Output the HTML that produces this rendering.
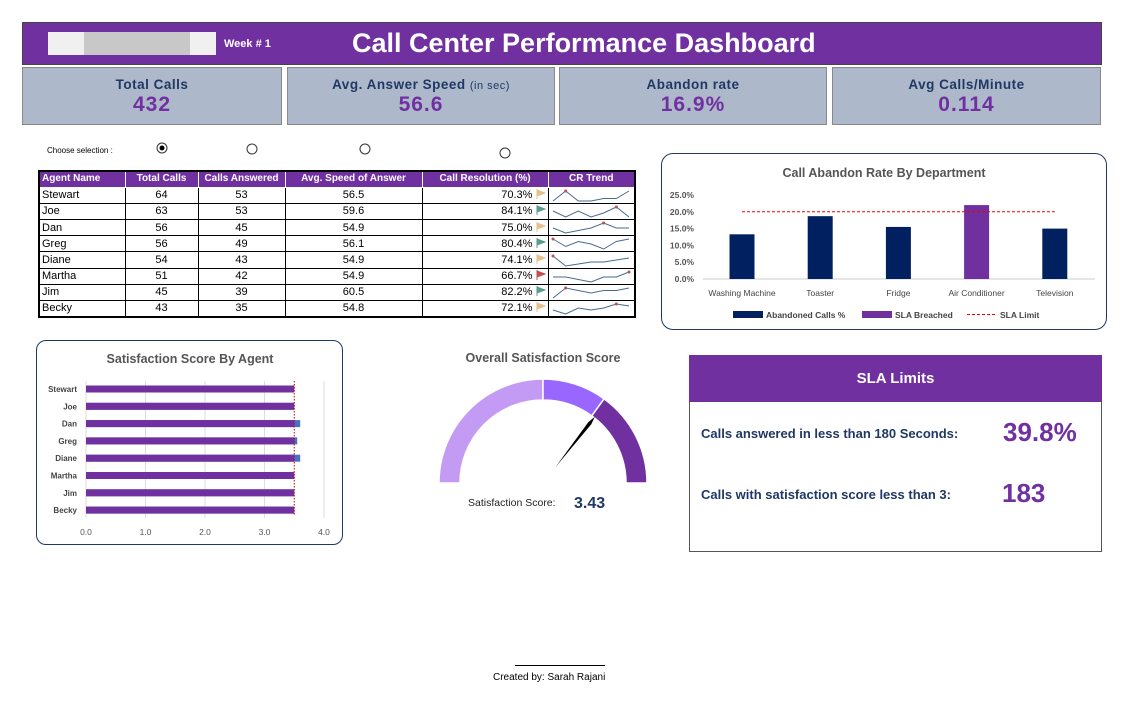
<!DOCTYPE html>
<html><head><meta charset="utf-8"><style>
body{margin:0;width:1140px;height:707px;background:#fff;font-family:"Liberation Sans",sans-serif;position:relative;overflow:hidden}
.a{position:absolute}
.kpi{position:absolute;top:67px;height:58px;background:#adb9ca;border:1px solid #8a8a8a;box-sizing:border-box;text-align:center}
.kpi .l{margin-top:9px;font-size:13.5px;font-weight:bold;color:#1f3864;letter-spacing:.5px}
.kpi .v{font-size:21px;font-weight:bold;color:#7030a0;letter-spacing:1px;margin-top:1px}
table{border-collapse:collapse;font-size:11px;table-layout:fixed}
tr{height:16.2px}
td,th{border:1px solid #000;padding:0 2px;line-height:12px;overflow:hidden;white-space:nowrap}
td svg{display:block}
th{background:#7030a0;color:#fff;font-size:10px;border-color:#fff}
</style></head><body>
<div class="a" style="left:22px;top:22px;width:1080px;height:43px;background:#7030a0;border:1px solid #444;box-sizing:border-box"></div>
<div class="a" style="left:48px;top:32px;width:168px;height:23px;background:#f0f0f0"><div class="a" style="left:36px;top:0;width:106px;height:23px;background:#c8c8c8"></div></div>
<div class="a" style="left:224px;top:38px;color:#fff;font-size:11px;font-weight:bold">Week # 1</div>
<div class="a" style="left:352px;top:28px;color:#fff;font-size:27px;font-weight:bold">Call Center Performance Dashboard</div>

<div class="kpi" style="left:22px;width:260px"><div class="l">Total Calls</div><div class="v">432</div></div>
<div class="kpi" style="left:287px;width:268px"><div class="l">Avg. Answer Speed <span style="font-weight:normal;font-size:11px">(in sec)</span></div><div class="v">56.6</div></div>
<div class="kpi" style="left:559px;width:268px"><div class="l">Abandon rate</div><div class="v">16.9%</div></div>
<div class="kpi" style="left:832px;width:269px"><div class="l">Avg Calls/Minute</div><div class="v">0.114</div></div>

<div class="a" style="left:47px;top:146px;font-size:8px">Choose selection :</div>
<svg class="a" style="left:0;top:0" width="1140" height="707">
<circle cx="162" cy="148" r="5" fill="#fff" stroke="#333"/><circle cx="162" cy="148" r="2.5" fill="#000"/>
<circle cx="252" cy="149" r="5" fill="#fff" stroke="#333"/>
<circle cx="365" cy="149" r="5" fill="#fff" stroke="#333"/>
<circle cx="505" cy="153" r="5" fill="#fff" stroke="#333"/>
</svg>

<table class="a" style="left:38px;top:170px;width:598px;border:2px solid #000">
<colgroup><col style="width:86px"><col style="width:73px"><col style="width:87px"><col style="width:137px"><col style="width:126px"><col></colgroup>
<tr><th style="text-align:left">Agent Name</th><th>Total Calls</th><th>Calls Answered</th><th>Avg. Speed of Answer</th><th>Call Resolution (%)</th><th>CR Trend</th></tr>
<tbody id="tb"></tbody></table>

<div class="a" style="left:661px;top:153px;width:446px;height:177px;border:1.5px solid #1f3864;border-radius:12px;box-sizing:border-box"></div>
<div class="a" style="left:36px;top:340px;width:307px;height:205px;border:1.5px solid #1f3864;border-radius:10px;box-sizing:border-box"></div>
<svg class="a" id="ch" style="left:0;top:0" width="1140" height="707" font-family="Liberation Sans, sans-serif"></svg>

<div class="a" style="left:689px;top:355px;width:413px;height:197px;border:1px solid #555;box-sizing:border-box"></div>
<div class="a" style="left:689px;top:355px;width:413px;height:47px;background:#7030a0;color:#fff;font-weight:bold;font-size:15px;text-align:center;line-height:47px">SLA Limits</div>
<div class="a" style="left:701px;top:426px;font-size:13px;font-weight:bold;color:#1f3864">Calls answered in less than 180 Seconds:</div>
<div class="a" style="left:1003px;top:417px;font-size:26px;font-weight:bold;color:#7030a0">39.8%</div>
<div class="a" style="left:701px;top:487px;font-size:13px;font-weight:bold;color:#1f3864">Calls with satisfaction score less than 3:</div>
<div class="a" style="left:1002px;top:478px;font-size:26px;font-weight:bold;color:#7030a0">183</div>

<div class="a" style="left:515px;top:665px;width:90px;border-top:1px solid #000"></div>
<div class="a" style="left:493px;top:672px;font-size:10px">Created by: Sarah Rajani</div>

<script>
const agents=["Stewart","Joe","Dan","Greg","Diane","Martha","Jim","Becky"];
const totalCalls=[64,63,56,56,54,51,45,43];
const answered=[53,53,45,49,43,42,39,35];
const speed=["56.5","59.6","54.9","56.1","54.9","54.9","60.5","54.8"];
const resolution=[70.3,84.1,75.0,80.4,74.1,66.7,82.2,72.1];
const trends=[[3,7,3,3,4,4,7],[6,3,6,3,5,8,3],[5,3,4,5,7,5,5],[7,4,6,5,3,6,7],[7,2,3,4,4,5,6],[5,5,4,3,5,5,7],[3,7,6,5,6,6,7],[4,2,5,4,5,7,6]];
const depts=["Washing Machine","Toaster","Fridge","Air Conditioner","Television"];
const abandon=[13.3,18.7,15.5,22.0,15.0];
const slaLimit=20;
const abTicks=[0,5,10,15,20,25];
const satScores=[3.5,3.5,3.6,3.55,3.6,3.5,3.5,3.5];
const satCap=3.5;
const satTicks=[0,1,2,3,4];
const overall=3.43;
const gaugeBands=[0,2.5,3.5,5];

const tb=document.getElementById('tb');
agents.forEach((a,i)=>{
 const tr=document.createElement('tr');
 const w=84,h=13;
 const t=trends[i],mx=Math.max(...t),mn=Math.min(...t);
 const pts=t.map((v,j)=>[4+j*(w-8)/(t.length-1),h-1-(v-mn)/(mx-mn)*(h-3)]);
 const mi=t.indexOf(mx);
 const fc=resolution[i]>=80?'#5b9b8f':resolution[i]<70?'#c0504d':'#e6c08a';
 tr.innerHTML=`<td>${a}</td><td style="text-align:center">${totalCalls[i]}</td><td style="text-align:center">${answered[i]}</td><td style="text-align:center">${speed[i]}</td><td style="text-align:right">${resolution[i].toFixed(1)}% <svg width="10" height="10" style="display:inline;vertical-align:-1px"><path d="M1 0V10M1 1L9 4L1 7Z" fill="${fc}" stroke="${fc}"/></svg></td><td style="padding:0"><svg width="${w}" height="${h}"><polyline points="${pts.join(' ')}" fill="none" stroke="#4a6a90" stroke-width="1"/><circle cx="${pts[mi][0]}" cy="${pts[mi][1]}" r="1.5" fill="#c0504d"/></svg></td>`;
 
 
 tb.appendChild(tr);
});

const S=document.getElementById('ch');const NS='http://www.w3.org/2000/svg';
function el(tag,at,txt,name){const e=document.createElementNS(NS,tag);for(const k in at)e.setAttribute(k,at[k]);if(txt!==undefined)e.textContent=txt;
 
 
 S.appendChild(e);return e;}
const ay=v=>279-v*3.36, ax=i=>742+i*78.2;
el('text',{x:884,y:177,'text-anchor':'middle','font-size':12.5,'font-weight':'bold',fill:'#555'},'Call Abandon Rate By Department','abandon-chart-title');
abTicks.forEach(t=>el('text',{x:694,y:ay(t)+3,'text-anchor':'end','font-size':8.5,'font-weight':'bold',fill:'#555'},t.toFixed(1)+'%','abandon-y-tick'));
el('line',{x1:703,x2:1095,y1:279,y2:279,stroke:'#ccc'},undefined,'abandon-x-axis');
abandon.forEach((v,i)=>{el('rect',{x:ax(i)-12.5,y:ay(v),width:25,height:v*3.36,fill:v>slaLimit?'#7030a0':'#002060'},undefined,'abandon-bar-'+i);
 el('text',{x:ax(i),y:296,'text-anchor':'middle','font-size':8.5,fill:'#444'},depts[i],'abandon-x-label');});
el('line',{x1:ax(0),x2:ax(4),y1:ay(slaLimit),y2:ay(slaLimit),stroke:'#e00','stroke-dasharray':'3,2'},undefined,'sla-limit-line');
el('rect',{x:733,y:311,width:30,height:7,fill:'#002060'},undefined,'legend-abandoned-swatch');
el('text',{x:766,y:318,'font-size':8.5,'font-weight':'bold',fill:'#444'},'Abandoned Calls %','legend-abandoned');
el('rect',{x:862,y:311,width:30,height:7,fill:'#7030a0'},undefined,'legend-breached-swatch');
el('text',{x:895,y:318,'font-size':8.5,'font-weight':'bold',fill:'#444'},'SLA Breached','legend-breached');
el('line',{x1:967,x2:997,y1:314.5,y2:314.5,stroke:'#e00','stroke-dasharray':'3,2'},undefined,'legend-sla-swatch');
el('text',{x:1000,y:318,'font-size':8.5,'font-weight':'bold',fill:'#444'},'SLA Limit','legend-sla');
const sx=v=>86+v*59.5, sy=i=>389+i*17.3;
el('text',{x:190,y:363,'text-anchor':'middle','font-size':12.5,'font-weight':'bold',fill:'#555'},'Satisfaction Score By Agent','satisfaction-chart-title');
satTicks.forEach(t=>{el('line',{x1:sx(t),x2:sx(t),y1:381,y2:518,stroke:'#ddd'},undefined,'sat-grid');
 el('text',{x:sx(t),y:535,'text-anchor':'middle','font-size':8.5,fill:'#555'},t.toFixed(1),'sat-x-tick');});
agents.forEach((a,i)=>{el('rect',{x:sx(0),y:sy(i)-3.5,width:satScores[i]*59.5,height:7,fill:'#4472c4'},undefined,'sat-bar-blue-'+i);
 el('rect',{x:sx(0),y:sy(i)-3.5,width:Math.min(satScores[i],satCap)*59.5,height:7,fill:'#7030a0'},undefined,'sat-bar-'+i);
 el('text',{x:77,y:sy(i)+3,'text-anchor':'end','font-size':8,'font-weight':'bold',fill:'#444'},a,'sat-y-label');});
el('line',{x1:sx(satCap),x2:sx(satCap),y1:381,y2:516,stroke:'#c00','stroke-dasharray':'1.5,1.5'},undefined,'sat-target-line');
el('text',{x:543,y:362,'text-anchor':'middle','font-size':12.5,'font-weight':'bold',fill:'#555'},'Overall Satisfaction Score','gauge-title');
const cx=543,cy=483,R=104,r=83,cols=['#c39bf5','#9966ff','#7030a0'];
const ang=v=>Math.PI*(1-v/5);
function pt(a,rr){return [cx+rr*Math.cos(a),cy-rr*Math.sin(a)];}
for(let k=0;k<3;k++){const a1=ang(gaugeBands[k]),a2=ang(gaugeBands[k+1]);
 const p1=pt(a1,R),p2=pt(a2,R),p3=pt(a2,r),p4=pt(a1,r);
 el('path',{d:`M${p1}A${R},${R} 0 0 1 ${p2}L${p3}A${r},${r} 0 0 0 ${p4}Z`,fill:cols[k],stroke:'#fff','stroke-width':1.5},undefined,'gauge-band-'+k);}
const na=ang(overall)-0.08;
const st=pt(na,20),tip=pt(na,84),mid=pt(na,76);
const px=Math.cos(na+Math.PI/2)*1.8,py=-Math.sin(na+Math.PI/2)*1.8;
el('path',{d:`M${st}L${mid[0]+px},${mid[1]+py}L${tip}L${mid[0]-px},${mid[1]-py}Z`,fill:'#000'},undefined,'gauge-needle');
el('text',{x:468,y:506,'font-size':10.5,fill:'#222'},'Satisfaction Score:','gauge-label');
el('text',{x:574,y:508,'font-size':16,'font-weight':'bold',fill:'#1f3864'},overall.toFixed(2),'gauge-value');
</script>
</body></html>
